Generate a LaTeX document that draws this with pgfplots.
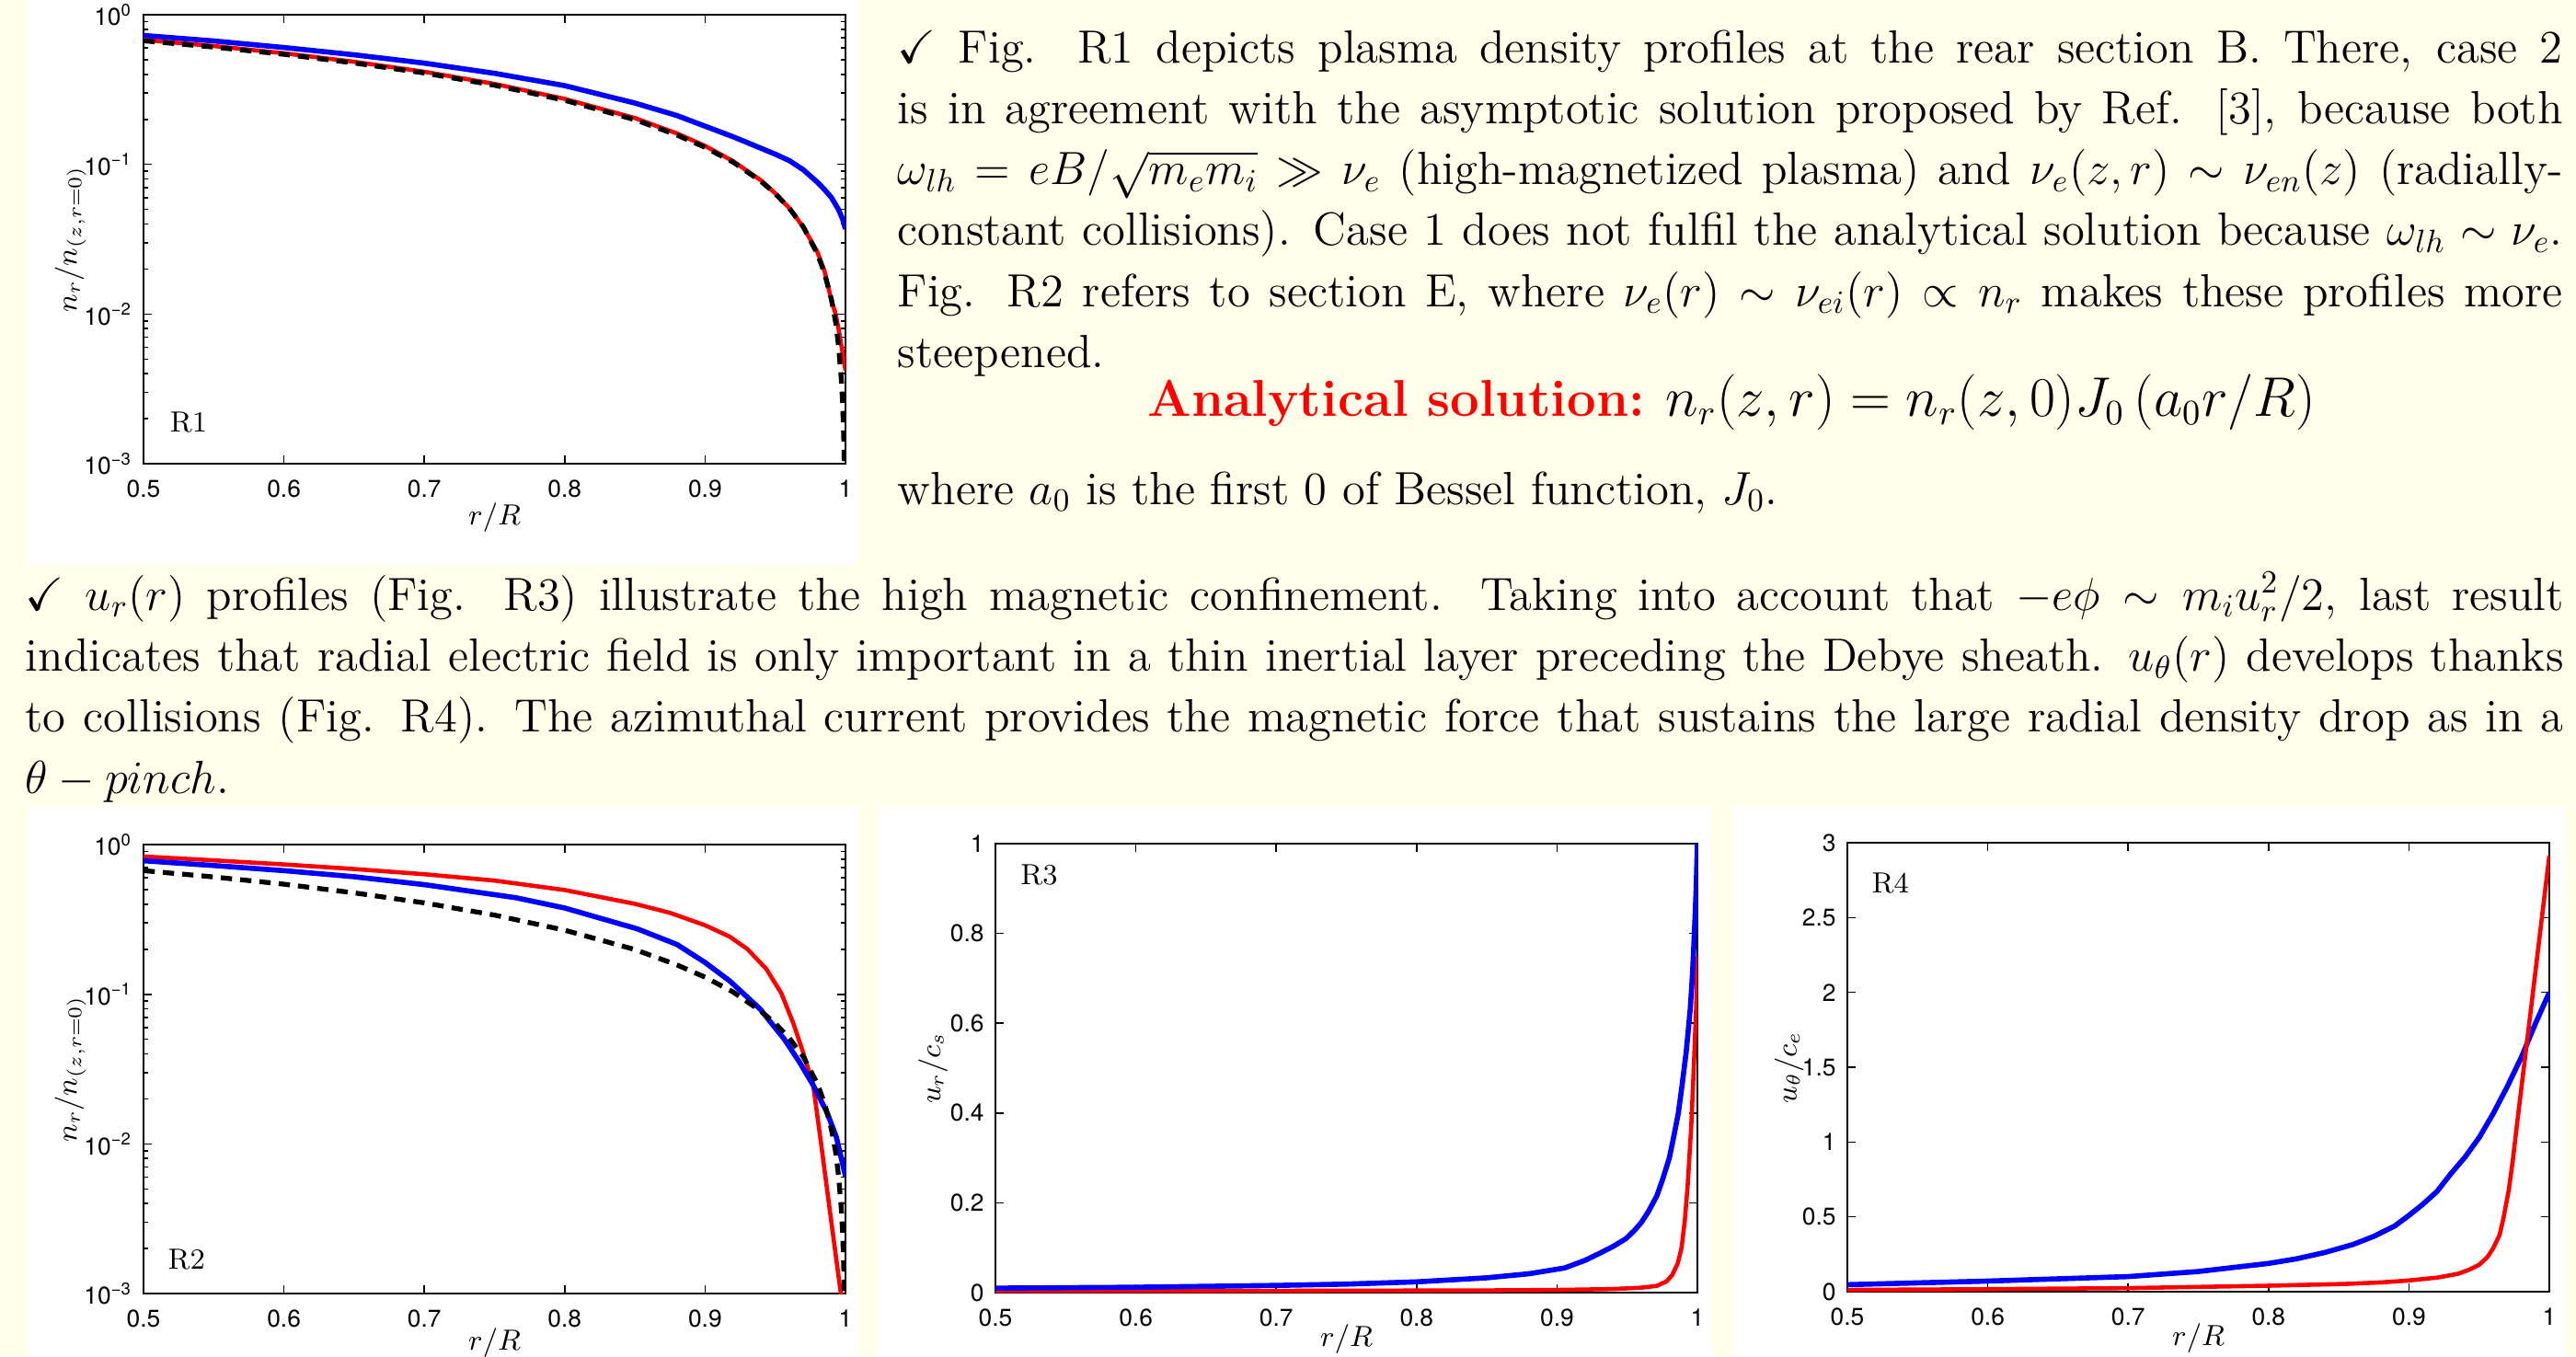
\documentclass[border=0pt]{standalone}
\usepackage{amsmath,amssymb}
\usepackage{fontspec}
\newfontfamily\helv{TeX Gyre Heros}
\usepackage{pgfplots}
\usepackage{pgfplotstable}
\pgfplotsset{compat=1.18}
\definecolor{cream}{RGB}{255,255,234}

\pgfplotstableread{
x y
0.5 0.670
0.55 0.608
0.6 0.544
0.65 0.476
0.7 0.408
0.75 0.338
0.8 0.268
0.85 0.199
0.88 0.157
0.9 0.130
0.92 0.1035
0.94 0.0768
0.95 0.0638
0.96 0.0509
0.97 0.0382
0.98 0.0252
0.985 0.0188
0.99 0.0125
0.993 0.0088
0.995 0.0062
0.997 0.0037
0.998 0.0025
0.999 0.00125
0.9995 0.00062
1.0 0.0003
}\besselJ

\tikzset{rlab/.style={anchor=base west, inner sep=0pt, font=\fontsize{9}{10}\selectfont}}

\pgfplotsset{myax/.style={
  scale only axis, width=76.3mm, height=48.8mm,
  xmin=0.5, xmax=1,
  xtick={0.5,0.6,0.7,0.8,0.9,1}, xticklabels={0.5,0.6,0.7,0.8,0.9,1},
  tick align=inside, axis line style={line width=0.6pt},
  major tick length=0.9mm, minor tick length=0.5mm,
  every tick/.style={black, line width=0.45pt},
  tick label style={font=\helv\fontsize{7.5}{9}\selectfont},
  xticklabel style={yshift=-0.5mm},
  label style={font=\fontsize{8.7}{10}\selectfont},
  axis background/.style={fill=white},
},
logax/.style={
  ymin=1e-3, ymax=1,
  ytick={0.001,0.01,0.1,1},
  yticklabels={10\textsuperscript{−3},10\textsuperscript{−2},10\textsuperscript{−1},10\textsuperscript{0}},
  minor ytick={0.002,0.003,0.004,0.005,0.006,0.007,0.008,0.009,0.02,0.03,0.04,0.05,0.06,0.07,0.08,0.09,0.2,0.3,0.4,0.5,0.6,0.7,0.8,0.9},
},
bl/.style={blue, line width=1.6pt},
rd/.style={red, line width=1.3pt},
dsh/.style={black, line width=1.5pt, dash pattern=on 3.5pt off 2.5pt},
}

\begin{document}
\begin{tikzpicture}
\useasboundingbox (0,0) rectangle (280mm,-147.4mm);
\fill[cream] (0,0) rectangle (280mm,-147.4mm);
\fill[white] (3.0mm,0) rectangle (93.2mm,-61.4mm);
\fill[white] (3.0mm,-87.6mm) rectangle (93.2mm,-147.4mm);
\fill[white] (95.5mm,-87.6mm) rectangle (186.2mm,-147.4mm);
\fill[white] (188.2mm,-87.6mm) rectangle (278.9mm,-147.4mm);

% ---------- R1 ----------
\begin{semilogyaxis}[myax, logax, at={(15.6mm,-50.4mm)}, anchor=south west,
  xlabel={$r/R$}, ylabel={$n_r/n_{(z,r=0)}$},
  xlabel style={at={(axis description cs:0.5,-0.121)}, anchor=center},
  ylabel style={at={(axis description cs:-0.104,0.5)}, anchor=center}]
\addplot[bl] coordinates {(0.5,0.727)(0.55,0.668)(0.6,0.604)(0.65,0.540)(0.7,0.475)(0.75,0.406)(0.8,0.336)(0.85,0.257)(0.88,0.212)(0.9,0.180)(0.92,0.153)(0.94,0.128)(0.95,0.117)(0.96,0.106)(0.97,0.092)(0.98,0.076)(0.985,0.068)(0.99,0.060)(0.995,0.050)(0.998,0.043)(1.0,0.037)};
\addplot[rd] coordinates {(0.5,0.68)(0.55,0.618)(0.6,0.553)(0.65,0.485)(0.7,0.416)(0.75,0.345)(0.8,0.274)(0.85,0.204)(0.88,0.161)(0.9,0.133)(0.92,0.105)(0.94,0.078)(0.95,0.064)(0.96,0.051)(0.97,0.038)(0.98,0.026)(0.985,0.0195)(0.99,0.0123)(0.993,0.0100)(0.995,0.0080)(0.998,0.0055)(1.0,0.0042)};
\addplot[dsh] table[x=x,y=y] {\besselJ};
\node[rlab] at (rel axis cs:0.037,0.07) {R1};
\end{semilogyaxis}

% ---------- R2 ----------
\begin{semilogyaxis}[myax, logax, at={(15.6mm,-140.6mm)}, anchor=south west,
  xlabel={$r/R$}, ylabel={$n_r/n_{(z,r=0)}$},
  xlabel style={at={(axis description cs:0.5,-0.109)}, anchor=center},
  ylabel style={at={(axis description cs:-0.104,0.5)}, anchor=center}]
\addplot[rd] coordinates {(0.5,0.833)(0.55,0.785)(0.6,0.737)(0.65,0.687)(0.7,0.634)(0.75,0.575)(0.8,0.497)(0.85,0.402)(0.875,0.350)(0.9,0.289)(0.9174,0.243)(0.93,0.201)(0.9435,0.148)(0.9543,0.1016)(0.963,0.0634)(0.9696,0.0415)(0.977,0.0247)(0.9826,0.0101)(0.9891,0.00344)(0.9935,0.00168)(0.9967,0.001)(0.998,0.0008)};
\addplot[bl] coordinates {(0.5,0.78)(0.55,0.725)(0.6,0.670)(0.65,0.61)(0.7,0.54)(0.765,0.442)(0.8,0.377)(0.852,0.273)(0.88,0.215)(0.9,0.163)(0.9174,0.123)(0.939,0.080)(0.9565,0.050)(0.967,0.0355)(0.977,0.0247)(0.987,0.0161)(0.9935,0.0111)(1.0,0.0061)};
\addplot[dsh] table[x=x,y=y] {\besselJ};
\node[rlab] at (rel axis cs:0.034,0.055) {R2};
\end{semilogyaxis}

% ---------- R3 ----------
\begin{axis}[myax, at={(108.2mm,-140.5mm)}, anchor=south west,
  ymin=0, ymax=1, ytick={0,0.2,0.4,0.6,0.8,1}, yticklabels={0,0.2,0.4,0.6,0.8,1},
  xlabel={$r/R$}, ylabel={$u_r/c_s$},
  xlabel style={at={(axis description cs:0.5,-0.103)}, anchor=center},
  ylabel style={at={(axis description cs:-0.089,0.5)}, anchor=center}]
\addplot[rd] coordinates {(0.5,0.004)(0.7,0.004)(0.85,0.005)(0.9,0.006)(0.94,0.008)(0.96,0.011)(0.971,0.015)(0.978,0.025)(0.982,0.039)(0.986,0.065)(0.9887,0.10)(0.991,0.16)(0.993,0.236)(0.9956,0.37)(0.9974,0.50)(0.9991,0.636)(1.0,0.75)};
\addplot[bl] coordinates {(0.5,0.010)(0.6,0.012)(0.7,0.016)(0.75,0.019)(0.8,0.024)(0.85,0.033)(0.88,0.042)(0.9055,0.055)(0.92,0.072)(0.93,0.087)(0.94,0.103)(0.949,0.120)(0.955,0.138)(0.96,0.156)(0.965,0.18)(0.971,0.215)(0.975,0.25)(0.98,0.30)(0.983,0.345)(0.9864,0.40)(0.989,0.46)(0.992,0.536)(0.9935,0.585)(0.995,0.636)(0.9965,0.71)(0.9974,0.77)(0.9985,0.85)(0.9991,0.90)(1.0,1.0)};
\node[rlab] at (rel axis cs:0.035,0.909) {R3};
\end{axis}

% ---------- R4 ----------
\begin{axis}[myax, at={(200.8mm,-140.4mm)}, anchor=south west,
  ymin=0, ymax=3, ytick={0,0.5,1,1.5,2,2.5,3}, yticklabels={0,0.5,1,1.5,2,2.5,3},
  xlabel={$r/R$}, ylabel={$u_\theta/c_e$},
  xlabel style={at={(axis description cs:0.5,-0.104)}, anchor=center},
  ylabel style={at={(axis description cs:-0.083,0.5)}, anchor=center}]
\addplot[bl] coordinates {(0.5,0.047)(0.6,0.071)(0.7,0.101)(0.75,0.135)(0.8,0.189)(0.82,0.22)(0.84,0.262)(0.86,0.315)(0.875,0.37)(0.89,0.44)(0.9,0.51)(0.91,0.585)(0.92,0.67)(0.93,0.79)(0.94,0.9)(0.95,1.03)(0.96,1.19)(0.97,1.37)(0.98,1.565)(0.99,1.79)(1.0,2.0)};
\addplot[rd] coordinates {(0.5,0.012)(0.6,0.017)(0.7,0.024)(0.8,0.040)(0.855,0.052)(0.88,0.062)(0.9,0.075)(0.9208,0.095)(0.935,0.12)(0.9427,0.146)(0.95,0.18)(0.9558,0.23)(0.96,0.29)(0.9646,0.38)(0.9675,0.5)(0.9711,0.68)(0.974,0.88)(0.9766,1.09)(0.9816,1.48)(0.9864,1.85)(0.9952,2.54)(1.0,2.914)};
\node[rlab] at (rel axis cs:0.034,0.888) {R4};
\end{axis}

% ---------- Text ----------
\node[anchor=base west, inner sep=0] at (97.5mm,-6.8mm) {\parbox[t]{181.0mm}{\fontsize{14.4}{18.85}\selectfont
$\checkmark$ Fig. R1 depicts plasma density profiles at the rear section B. There, case 2\linebreak
is in agreement with the asymptotic solution proposed by Ref. [3], because both\linebreak
$\omega_{lh}=eB/\sqrt{m_e m_i}\gg\nu_e$ (high-magnetized plasma) and $\nu_e(z,r)\sim\nu_{en}(z)$ (radially-\linebreak
constant collisions). Case 1 does not fulfil the analytical solution because $\omega_{lh}\sim\nu_e$.\linebreak
Fig. R2 refers to section E, where $\nu_e(r)\sim\nu_{ei}(r)\propto n_r$ makes these profiles more\linebreak
steepened.}};
\node[anchor=base, inner sep=0, font=\fontsize{16}{19}\selectfont] at (188.2mm,-45.2mm)
  {{\color{red}\bfseries Analytical solution:} $n_r(z,r)=n_r(z,0)J_0\left(a_0r/R\right)$};
\node[anchor=base west, inner sep=0, font=\fontsize{14.4}{18.9}\selectfont] at (97.5mm,-54.8mm)
  {where $a_0$ is the first 0 of Bessel function, $J_0$.};
\node[anchor=base west, inner sep=0] at (2.7mm,-66.3mm) {\parbox[t]{275.9mm}{\fontsize{14.4}{18.9}\selectfont
$\checkmark$ $u_r(r)$ profiles (Fig. R3) illustrate the high magnetic confinement. Taking into account that $-e\phi\sim m_iu_r^2/2$, last result\linebreak
indicates that radial electric field is only important in a thin inertial layer preceding the Debye sheath. $u_\theta(r)$ develops thanks\linebreak
to collisions (Fig. R4). The azimuthal current provides the magnetic force that sustains the large radial density drop as in a\linebreak
$\theta-pinch$.}};
\end{tikzpicture}
\end{document}
